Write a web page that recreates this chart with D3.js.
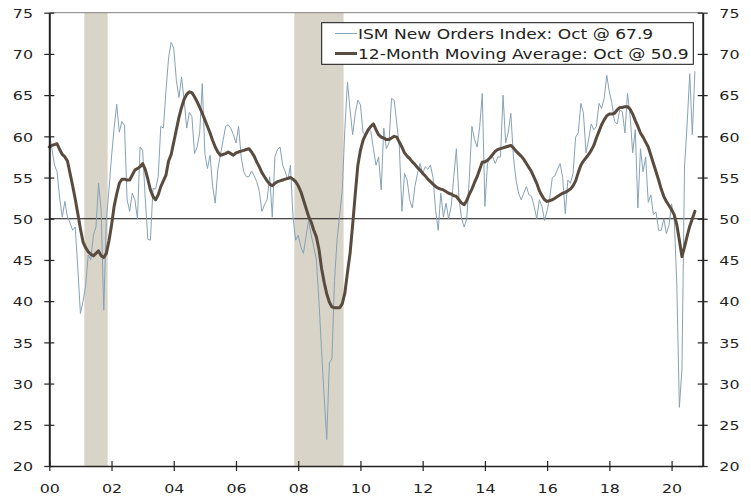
<!DOCTYPE html>
<html>
<head>
<meta charset="utf-8">
<script src="https://cdn.jsdelivr.net/npm/d3@7"></script>
<style>
  html, body { margin: 0; padding: 0; background: #fff; }
  svg { display: block; font-family: "DejaVu Sans", Verdana, sans-serif; }
</style>
</head>
<body>
<div id="chart"></div>
<script>
// Monthly data, Jan 2000 - Oct 2020 (one row per year)
var startYear = 2000;

var newOrders = [
  60.4, 58.5, 56.5, 55.7, 52.5, 50.2, 52.1, 50.2, 49.5, 48.6, 49.0, 44.0, // 2000
  38.5, 40.0, 41.8, 45.6, 45.0, 48.0, 49.0, 54.3, 51.0, 38.9, 49.8, 53.5, // 2001
  57.5, 61.0, 63.9, 60.5, 61.8, 61.3, 52.3, 50.9, 53.1, 52.3, 50.0, 58.7, // 2002
  58.3, 52.5, 47.5, 47.4, 53.7, 53.6, 55.1, 61.2, 61.0, 65.5, 69.5, 71.4, // 2003
  70.7, 66.8, 64.7, 67.2, 64.4, 61.0, 62.9, 62.4, 57.9, 58.7, 60.4, 66.4, // 2004
  57.9, 56.1, 57.7, 53.9, 51.9, 56.0, 57.7, 59.5, 61.2, 61.4, 61.0, 60.2, // 2005
  59.2, 61.2, 57.5, 55.7, 55.1, 55.1, 55.8, 55.2, 54.5, 53.3, 50.9, 51.7, // 2006
  52.3, 55.1, 50.2, 57.5, 58.4, 58.7, 56.5, 55.7, 54.7, 56.5, 50.2, 47.4, // 2007
  48.0, 46.6, 45.8, 47.8, 49.8, 48.0, 46.6, 45.0, 40.0, 34.0, 28.4, 23.2, // 2008
  32.5, 33.0, 42.5, 47.5, 50.5, 53.5, 61.0, 66.6, 63.2, 60.2, 62.8, 64.4, // 2009
  63.8, 60.5, 60.0, 61.0, 60.6, 58.5, 56.5, 57.5, 53.5, 61.0, 58.5, 59.2, // 2010
  64.6, 64.4, 61.6, 58.7, 50.9, 55.5, 54.7, 52.3, 51.3, 53.9, 55.5, 56.7, // 2011
  55.5, 56.3, 56.0, 56.5, 55.0, 51.0, 48.6, 53.1, 50.2, 51.9, 50.0, 51.5, // 2012
  55.1, 58.5, 52.5, 50.0, 49.0, 50.0, 55.0, 61.2, 59.6, 58.7, 61.2, 65.2, // 2013
  51.5, 56.7, 57.5, 57.5, 56.7, 57.5, 57.5, 65.0, 59.2, 60.5, 62.8, 57.5, // 2014
  54.7, 53.1, 52.3, 53.1, 53.9, 52.9, 52.7, 51.5, 50.0, 52.3, 51.5, 49.8, // 2015
  51.0, 52.5, 55.0, 55.2, 56.0, 56.7, 55.0, 50.6, 54.7, 54.3, 55.5, 59.9, // 2016
  60.4, 64.0, 62.8, 58.0, 59.6, 61.5, 60.8, 61.2, 64.0, 63.4, 64.6, 67.4, // 2017
  65.4, 64.0, 61.8, 61.5, 63.2, 63.0, 60.4, 65.2, 62.5, 58.0, 60.8, 51.3, // 2018
  58.5, 55.7, 57.5, 52.0, 52.9, 50.5, 50.8, 48.6, 48.6, 50.0, 48.2, 49.2, // 2019
  51.8, 50.0, 42.2, 27.1, 31.8, 56.4, 61.5, 67.6, 60.2, 67.9              // 2020
];

var movingAvg = [
  58.7, 58.9, 59.0, 59.1, 58.4, 57.8, 57.5, 57.0, 55.5, 54.0, 52.4, 50.6, // 2000
  48.8, 47.2, 46.5, 46.0, 45.7, 45.5, 45.8, 46.1, 45.5, 45.3, 45.8, 47.3, // 2001
  49.2, 51.5, 53.0, 54.3, 54.8, 54.8, 54.7, 54.7, 55.3, 55.9, 56.1, 56.3, // 2002
  56.7, 56.0, 54.8, 53.5, 52.7, 52.3, 52.9, 53.9, 54.6, 55.3, 57.0, 57.8, // 2003
  59.3, 60.8, 62.3, 63.5, 64.5, 65.1, 65.4, 65.3, 64.8, 64.2, 63.5, 62.8, // 2004
  62.0, 61.2, 60.4, 59.5, 58.7, 58.1, 57.7, 57.8, 57.9, 58.1, 57.9, 57.7, // 2005
  58.0, 58.1, 58.2, 58.3, 58.4, 58.5, 58.1, 57.6, 56.9, 56.3, 55.6, 55.1, // 2006
  54.6, 54.2, 54.0, 54.3, 54.5, 54.6, 54.7, 54.8, 54.9, 55.0, 54.8, 54.5, // 2007
  54.0, 53.3, 52.3, 51.3, 50.3, 49.6, 48.6, 47.8, 46.3, 44.0, 42.3, 40.9, // 2008
  39.9, 39.3, 39.2, 39.2, 39.2, 39.7, 41.0, 43.5, 45.8, 49.3, 53.0, 56.5, // 2009
  58.3, 59.5, 60.2, 60.8, 61.2, 61.5, 60.8, 60.2, 59.9, 59.8, 59.6, 59.6, // 2010
  59.8, 60.0, 59.9, 59.3, 58.7, 58.0, 57.6, 57.3, 56.9, 56.6, 56.2, 55.9, // 2011
  55.5, 55.2, 54.8, 54.5, 54.2, 53.9, 53.7, 53.6, 53.5, 53.3, 53.1, 53.0, // 2012
  52.8, 52.7, 52.3, 51.9, 51.7, 52.2, 53.0, 53.6, 54.4, 55.1, 56.0, 56.9, // 2013
  56.9, 57.1, 57.4, 57.8, 58.2, 58.4, 58.5, 58.6, 58.7, 58.8, 58.9, 58.6, // 2014
  58.2, 57.9, 57.6, 57.2, 56.7, 56.2, 55.7, 55.0, 54.3, 53.4, 52.8, 52.3, // 2015
  52.1, 52.2, 52.3, 52.5, 52.7, 52.9, 53.1, 53.2, 53.4, 53.6, 54.0, 54.6, // 2016
  55.6, 56.5, 57.0, 57.4, 57.8, 58.3, 58.9, 59.8, 60.6, 61.4, 62.0, 62.5, // 2017
  62.7, 62.7, 62.8, 63.2, 63.5, 63.5, 63.6, 63.6, 63.3, 62.7, 61.9, 61.2, // 2018
  60.4, 59.9, 59.3, 58.7, 57.7, 56.7, 55.7, 54.7, 53.6, 52.7, 52.1, 51.6, // 2019
  51.1, 50.5, 49.3, 47.4, 45.4, 46.6, 47.9, 49.1, 50.0, 50.9              // 2020
];

// Recessions as [year, month] of first and last month
var recessionStart = [[2001, 3], [2007, 12]];
var recessionEnd = [[2001, 11], [2009, 6]];

var xTickYears = [2000, 2002, 2004, 2006, 2008, 2010, 2012, 2014, 2016, 2018, 2020];
var xTickLabels = ["00", "02", "04", "06", "08", "10", "12", "14", "16", "18", "20"];
var yTicks = [20, 25, 30, 35, 40, 45, 50, 55, 60, 65, 70, 75];

var legendLabels = ["ISM New Orders Index: Oct @ 67.9", "12-Month Moving Average: Oct @ 50.9"];

// Canvas
var svgWidth = 751;
var svgHeight = 499;
var margin = { top: 12.7, bottom: 33, left: 49.3, right: 48.3 };
var width = svgWidth - margin.left - margin.right;
var height = svgHeight - margin.top - margin.bottom;

var blue = "#86a2b7";
var brown = "#5a4b3f";
var ink = "#222";
var stretch = 1.22;  // text in the original is wide

var svg = d3.select("#chart").append("svg")
  .attr("width", svgWidth)
  .attr("height", svgHeight);

svg.append("rect").attr("width", svgWidth).attr("height", svgHeight).attr("fill", "#fff");

var chartGroup = svg.append("g")
  .attr("transform", `translate(${margin.left}, ${margin.top})`);

var xScale = d3.scaleLinear().domain([2000, 2021]).range([0, width]);
var yScale = d3.scaleLinear().domain([20, 75]).range([height, 0]);

function monthPos(i) { return startYear + i / 12; }
function ymPos(ym) { return ym[0] + (ym[1] - 1) / 12; }

// Recession bars
chartGroup.selectAll("rect.recession")
  .data(recessionStart)
  .enter()
  .append("rect")
  .attr("class", "recession")
  .attr("x", d => xScale(ymPos(d) - 1 / 24))
  .attr("width", (d, i) => xScale(ymPos(recessionEnd[i]) + 1 / 24) - xScale(ymPos(d) - 1 / 24))
  .attr("y", 0)
  .attr("height", height)
  .attr("fill", "#d9d4c8");

// 50 line
chartGroup.append("line")
  .attr("x1", 0).attr("x2", width)
  .attr("y1", yScale(50)).attr("y2", yScale(50))
  .attr("stroke", "#111").attr("stroke-width", 1);

// Series
var line = d3.line()
  .x((d, i) => xScale(monthPos(i)))
  .y(d => yScale(d));

chartGroup.append("path")
  .datum(newOrders)
  .attr("d", line)
  .attr("fill", "none")
  .attr("stroke", blue)
  .attr("stroke-width", 1)
  .attr("stroke-linejoin", "round");

chartGroup.append("path")
  .datum(movingAvg)
  .attr("d", line)
  .attr("fill", "none")
  .attr("stroke", brown)
  .attr("stroke-width", 3)
  .attr("stroke-linejoin", "round")
  .attr("stroke-linecap", "round");

// Top frame line
chartGroup.append("line")
  .attr("x1", 0).attr("x2", width)
  .attr("y1", 0).attr("y2", 0)
  .attr("stroke", "#808080").attr("stroke-width", 1);

// Axes
var leftAxis = d3.axisLeft(yScale).tickValues(yTicks).tickSize(5).tickSizeOuter(0);
var rightAxis = d3.axisRight(yScale).tickValues(yTicks).tickSize(5).tickSizeOuter(0);
var bottomAxis = d3.axisBottom(xScale).tickValues(xTickYears).tickSize(5).tickSizeOuter(0)
  .tickFormat((d, i) => xTickLabels[i]);

function styleAxis(g, sw) {
  g.select(".domain").attr("stroke", ink).attr("stroke-width", sw);
  g.selectAll(".tick line").attr("stroke", ink).attr("stroke-width", 1.2);
  g.selectAll(".tick text")
    .attr("fill", ink)
    .style("font-size", "13px")
    .style("font-family", '"DejaVu Sans", Verdana, sans-serif');
}

var gLeft = chartGroup.append("g").call(leftAxis);
styleAxis(gLeft, 2);
gLeft.selectAll(".tick line").attr("x1", 5).attr("x2", -5);
gLeft.selectAll(".tick text")
  .attr("x", -16.3 / stretch).attr("dy", "0.36em")
  .attr("transform", `scale(${stretch},1)`);

var gRight = chartGroup.append("g").attr("transform", `translate(${width},0)`).call(rightAxis);
styleAxis(gRight, 2);
gRight.selectAll(".tick line").attr("x1", -5).attr("x2", 5);
gRight.selectAll(".tick text")
  .attr("x", 16.6 / stretch).attr("dy", "0.36em")
  .attr("transform", `scale(${stretch},1)`);

var gBottom = chartGroup.append("g").attr("transform", `translate(0,${height})`).call(bottomAxis);
styleAxis(gBottom, 1.5);
gBottom.selectAll(".tick line").attr("y1", -5).attr("y2", 5);
gBottom.selectAll(".tick text")
  .attr("y", 27).attr("dy", 0)
  .attr("transform", `scale(${stretch},1)`);

// Legend
var legend = svg.append("g");
legend.append("rect")
  .attr("x", 321.7).attr("y", 22.7)
  .attr("width", 371.6).attr("height", 41.6)
  .attr("fill", "#fff").attr("stroke", "#111").attr("stroke-width", 1);

var legendRows = [
  { label: legendLabels[0], color: blue, sw: 1, y: 33.5 },
  { label: legendLabels[1], color: brown, sw: 3, y: 53.5 }
];

legend.selectAll("line.key")
  .data(legendRows)
  .enter()
  .append("line")
  .attr("x1", 335).attr("x2", 357)
  .attr("y1", d => d.y).attr("y2", d => d.y)
  .attr("stroke", d => d.color)
  .attr("stroke-width", d => d.sw);

legend.selectAll("text.key")
  .data(legendRows)
  .enter()
  .append("text")
  .attr("transform", d => `translate(358, ${d.y + 5}) scale(${stretch},1)`)
  .attr("fill", ink)
  .style("font-size", "14px")
  .text(d => d.label);
</script>
</body>
</html>
